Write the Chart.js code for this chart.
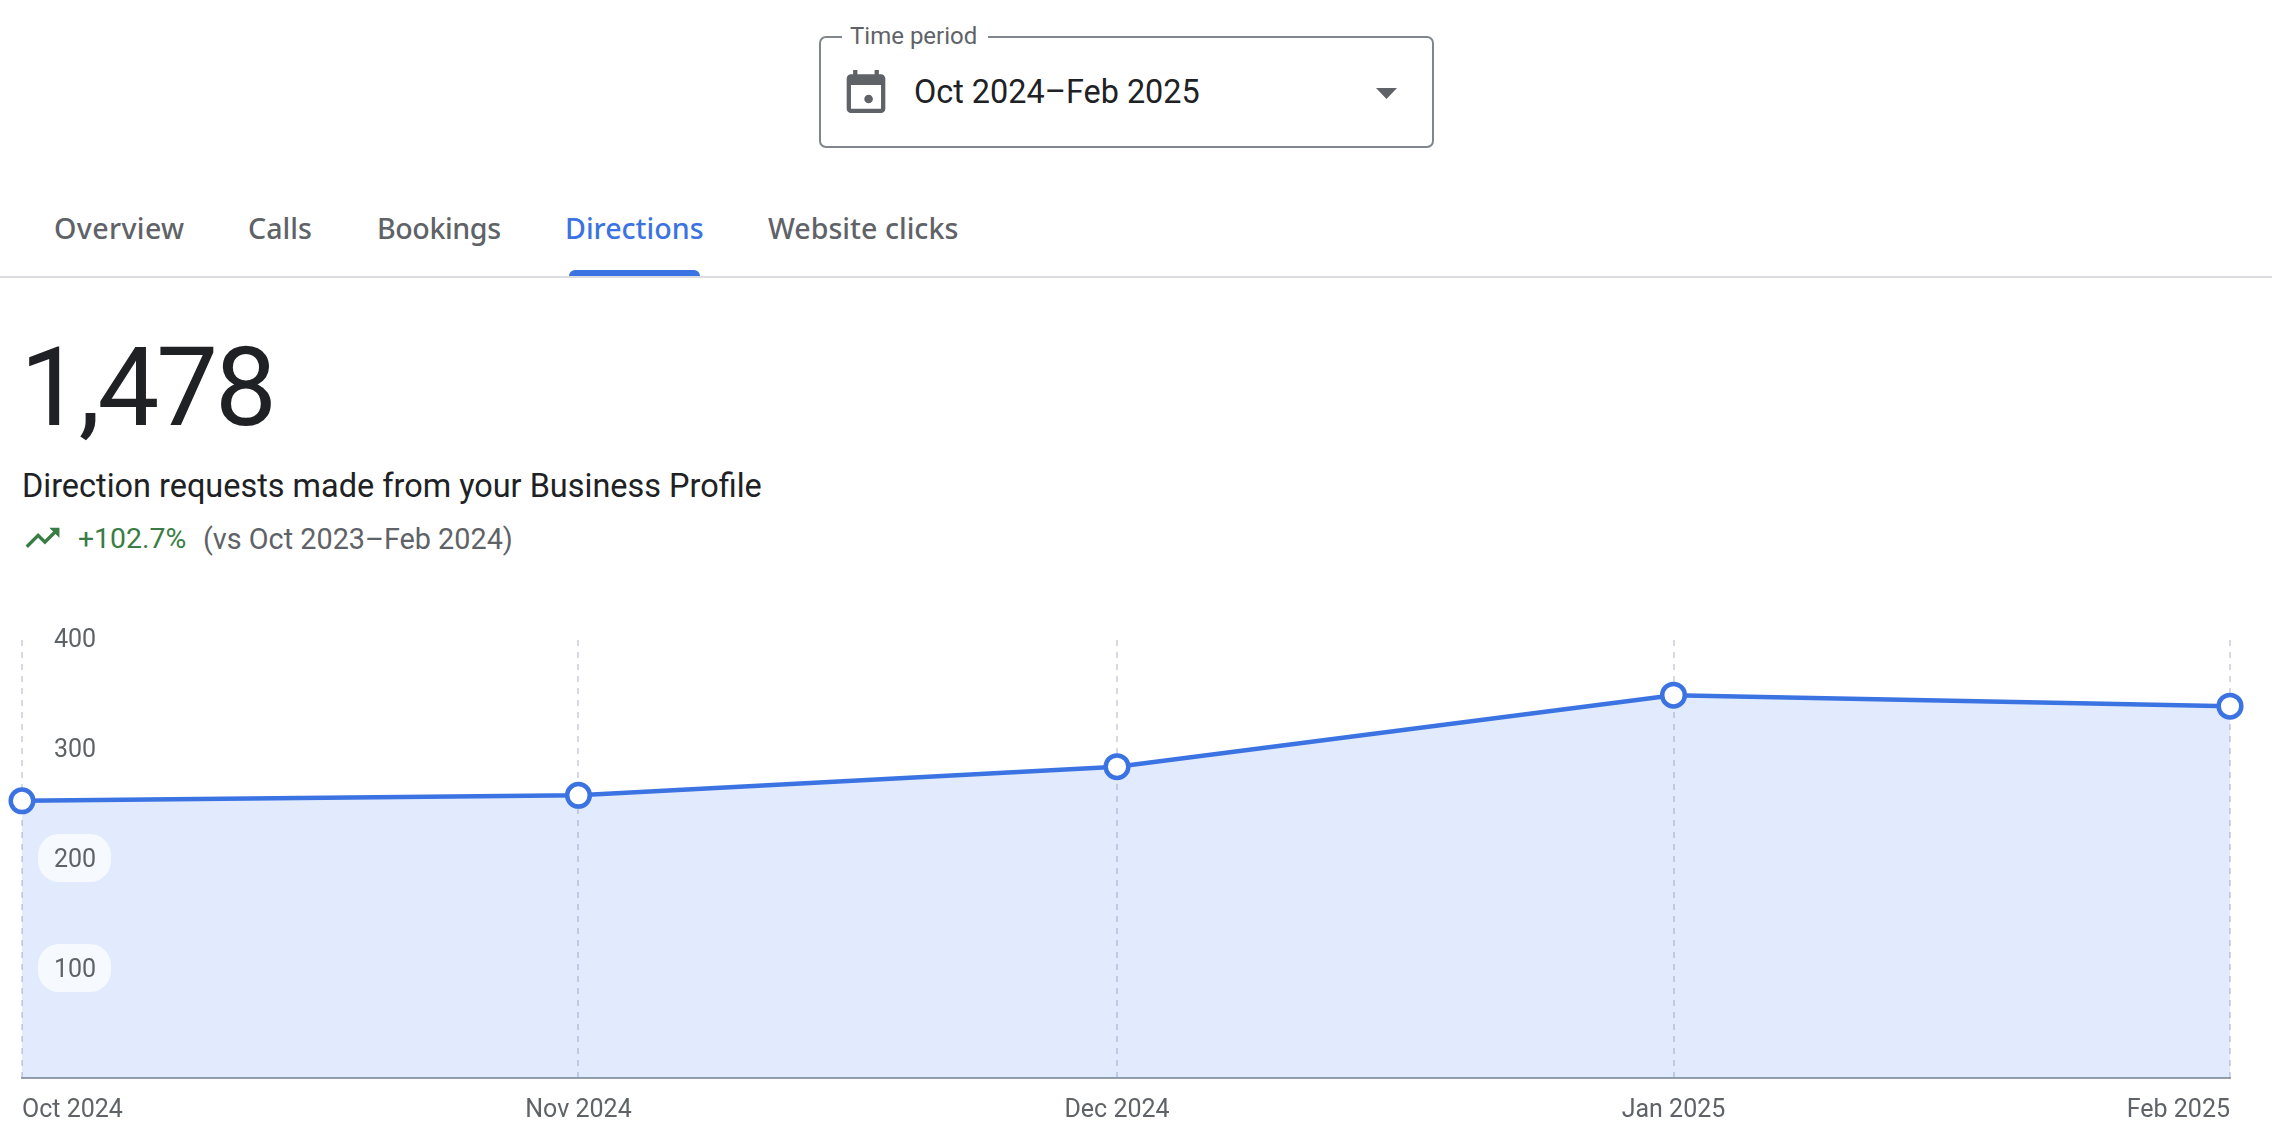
<!DOCTYPE html>
<html>
<head>
<meta charset="utf-8">
<title>Directions</title>
<script src="https://cdn.jsdelivr.net/npm/chart.js@4"></script>
<style>
    html, body { margin: 0; padding: 0; background: #fff; }
    body { position: relative; width: 2272px; height: 1142px; overflow: hidden; font-family: Roboto, sans-serif; }
    .txt { position: absolute; white-space: nowrap; line-height: 40px; height: 40px; }
    .tab { font-size: 28.6px; font-weight: 500; color: #5f6368; top: 208px; font-family: "Noto Sans", sans-serif; }
    .select-box { position: absolute; left: 819px; top: 36px; width: 611px; height: 108px; border: 2px solid #80868b; border-radius: 7px; }
    .legend-gap { position: absolute; left: 842px; top: 30px; width: 146px; height: 12px; background: #fff; }
    .underline { position: absolute; left: 569px; top: 270px; width: 131px; height: 6px; background: #3b73e3; border-radius: 6px 6px 0 0; }
    .divider { position: absolute; left: 0; top: 276px; width: 2272px; height: 2px; background: #dadce0; }
    canvas { position: absolute; left: 0; top: 600px; }
    svg { position: absolute; }
</style>
</head>
<body>
    <div class="select-box"></div>
    <div class="legend-gap"></div>
    <div class="txt" style="left:850px;top:16px;font-size:24px;color:#5f6368">Time period</div>
    <svg style="left:846px;top:70px" width="40" height="44" viewBox="3 2 18 20.5"><path fill="#5f6368" d="M19 4h-1V2h-2v2H8V2H6v2H5c-1.1 0-2 .9-2 2v14c0 1.1.9 2 2 2h14c1.1 0 2-.9 2-2V6c0-1.1-.9-2-2-2zm0 16H5V9h14v11z"/><circle fill="#5f6368" cx="13.2" cy="15.5" r="2"/></svg>
    <div class="txt" style="left:914px;top:72px;font-size:32.4px;color:#202124">Oct 2024–Feb 2025</div>
    <svg style="left:1376px;top:88px" width="21" height="11"><polygon fill="#5f6368" points="0,0 21,0 10.5,11"/></svg>

    <div class="txt tab" style="left:54px;letter-spacing:.35px">Overview</div>
    <div class="txt tab" style="left:248px">Calls</div>
    <div class="txt tab" style="left:377px;letter-spacing:-.4px">Bookings</div>
    <div class="txt tab" style="left:565px;color:#3b73e3">Directions</div>
    <div class="txt tab" style="left:768px">Website clicks</div>
    <div class="divider"></div>
    <div class="underline"></div>

    <div class="txt" style="left:20px;top:368px;font-size:110px;letter-spacing:-3px;color:#202124">1,478</div>
    <div class="txt" style="left:22px;top:466px;font-size:32.45px;color:#202124">Direction requests made from your Business Profile</div>
    <svg style="left:25px;top:526px" width="35" height="22" viewBox="2 5 20 13"><path fill="#3a7d44" d="M16 6l2.29 2.29-4.88 4.88-4-4L2 16.59 3.41 18l6-6 4 4 6.3-6.29L22 12V6z"/></svg>
    <div class="txt" style="left:78px;top:519px;font-size:28.4px;color:#3a7d44">+102.7%</div>
    <div class="txt" style="left:203px;top:519px;font-size:28.8px;color:#5f6368">(vs Oct 2023–Feb 2024)</div>

    <canvas id="directions-chart" width="2272" height="542"></canvas>

<script>
// Values (they add up to the 1,478 headline)
const monthLabels = ["Oct 2024", "Nov 2024", "Dec 2024", "Jan 2025", "Feb 2025"];
const dayOffsets = [0, 31, 61, 92, 123];
const directionRequests = [252, 257, 283, 348, 338];
const yTickValues = [100, 200, 300, 400];

const BLUE = "#3b73e3";
const GREY_TEXT = "#5f6368";

// Rounded label chips that sit over the area fill, below the tick text
const tickChips = {
    id: "tickChips",
    afterDatasetsDraw(chart) {
        const ctx = chart.ctx;
        const yScale = chart.scales.y;
        ctx.save();
        ctx.fillStyle = "rgba(255,255,255,0.7)";
        yTickValues.forEach(v => {
            const y = yScale.getPixelForValue(v);
            ctx.beginPath();
            ctx.roundRect(38, y - 24, 73, 48, 21);
            ctx.fill();
        });
        ctx.restore();
    }
};

new Chart(document.getElementById("directions-chart"), {
    type: "line",
    data: {
        datasets: [{
            data: dayOffsets.map((d, i) => ({ x: d, y: directionRequests[i] })),
            borderColor: BLUE,
            borderWidth: 4.5,
            backgroundColor: "rgba(45,120,240,0.145)",
            fill: "origin",
            tension: 0,
            clip: false,
            pointRadius: 11.3,
            pointBorderWidth: 4.5,
            pointBackgroundColor: "#fff",
            pointBorderColor: BLUE
        }]
    },
    options: {
        responsive: false,
        animation: false,
        devicePixelRatio: 1,
        layout: { padding: { left: 22, right: 42, top: 38, bottom: 20 } },
        plugins: { legend: { display: false }, tooltip: { enabled: false } },
        scales: {
            x: {
                type: "linear",
                min: 0,
                max: 123,
                afterBuildTicks: scale => { scale.ticks = dayOffsets.map(d => ({ value: d })); },
                afterFit: scale => { scale.height = 44; },
                grid: { color: "rgba(95,110,150,0.26)", lineWidth: 2, drawTicks: false },
                border: { display: true, color: "#9aa0a6", width: 2, dash: [6, 6], dashOffset: 10 },
                ticks: {
                    autoSkip: false,
                    maxRotation: 0,
                    align: "inner",
                    padding: 18,
                    color: GREY_TEXT,
                    font: { family: "Roboto", size: 25 },
                    callback: (value, i) => monthLabels[i]
                }
            },
            y: {
                min: 0,
                max: 400,
                afterBuildTicks: scale => { scale.ticks = yTickValues.map(v => ({ value: v })); },
                // labels sit inside the plot, so the axis itself takes no room
                afterFit: scale => {
                    scale.width = 0;
                    scale.paddingTop = 0;
                    scale.paddingBottom = 0;
                },
                grid: { display: false },
                border: { display: false },
                ticks: {
                    mirror: true,
                    z: 1,
                    padding: 32,
                    labelOffset: 3,
                    color: GREY_TEXT,
                    font: { family: "Roboto", size: 25 }
                }
            }
        }
    },
    plugins: [tickChips]
});
</script>
</body>
</html>
